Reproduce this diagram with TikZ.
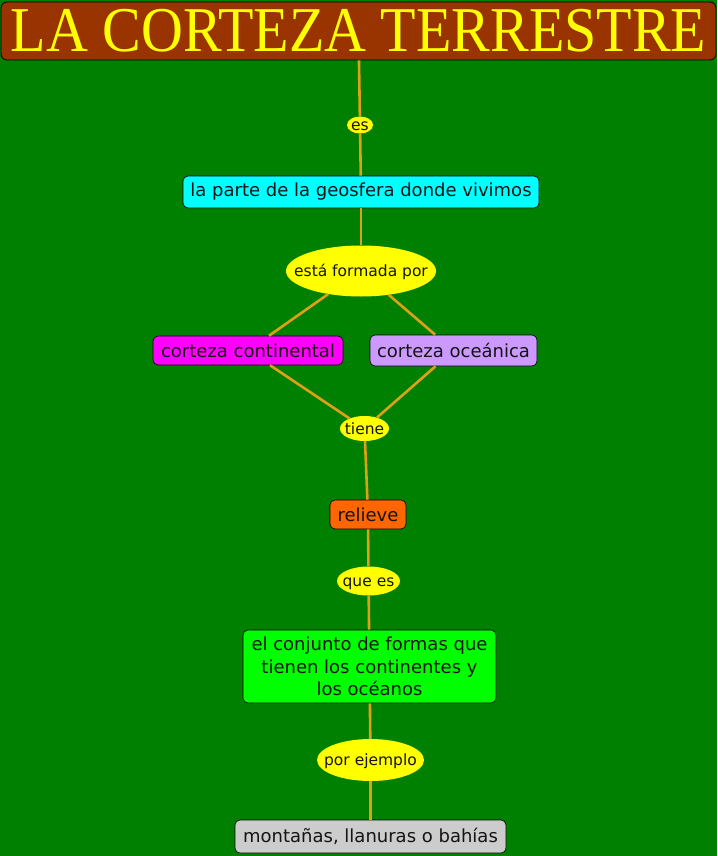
\documentclass[tikz,border=0pt]{standalone}
\usepackage{fontspec}
\setmainfont{DejaVu Sans}
\newfontfamily\titlefont{Liberation Serif}
\usetikzlibrary{shapes.geometric}
\definecolor{bg}{RGB}{0,128,0}
\definecolor{titlebg}{RGB}{153,51,0}
\definecolor{link}{RGB}{222,160,20}
\definecolor{cyanc}{RGB}{0,255,255}
\definecolor{magc}{RGB}{255,0,255}
\definecolor{yelc}{RGB}{255,255,0}
\definecolor{lav}{RGB}{204,153,255}
\definecolor{orng}{RGB}{255,102,0}
\definecolor{grn}{RGB}{0,255,0}
\definecolor{gry}{RGB}{204,204,204}
\definecolor{txt}{RGB}{20,20,20}
\newcommand{\lbl}[1]{\raisebox{-0.37em}[0pt][0pt]{\makebox[0pt]{#1}}}
\tikzset{
  concept/.style={draw=black, line width=0.6pt, rounded corners=5pt, inner sep=0pt, align=center,
    text=txt, font=\fontsize{18}{22.5}\selectfont},
  linkname/.style={ellipse, fill=yelc, inner sep=0pt, text=txt, font=\fontsize{15.5}{18}\selectfont},
  conn/.style={draw=link, line width=2.6pt}
}
\begin{document}
\begin{tikzpicture}[x=1pt,y=-1pt]
\useasboundingbox (0,0) rectangle (717,856);
\fill[bg] (0,0) rectangle (717,856);
% nodes
\node[draw=black, line width=0.8pt, fill=titlebg, rounded corners=6pt, minimum width=715pt, minimum height=58pt, inner sep=0pt,
  text=yelc, font=\titlefont\fontsize{58}{60}\selectfont] (title) at (358.5,31) {\scalebox{1}[1.1]{LA CORTEZA TERRESTRE}};
\node[linkname, minimum width=26pt, minimum height=17pt] (es) at (360,125) {\lbl{es}};
\node[concept, fill=cyanc, minimum width=356pt, minimum height=32pt] (parte) at (361,192) {la parte de la geosfera donde vivimos};
\node[linkname, minimum width=150pt, minimum height=51pt] (formada) at (361,271) {\lbl{está formada por}};
\node[concept, fill=magc, minimum width=190pt, minimum height=29pt] (cont) at (248,350.5) {corteza continental};
\node[concept, fill=lav, minimum width=167pt, minimum height=31pt] (ocea) at (453.5,350.5) {corteza oceánica};
\node[linkname, minimum width=49pt, minimum height=25pt] (tiene) at (364.5,428.5) {\lbl{tiene}};
\node[concept, fill=orng, minimum width=76pt, minimum height=29pt] (relieve) at (368,514.5) {relieve};
\node[linkname, minimum width=63pt, minimum height=29pt] (quees) at (368.5,581) {\lbl{que es}};
\node[concept, fill=grn, minimum width=253pt, minimum height=73pt] (conj) at (369.5,666.5) {el conjunto de formas que\\tienen los continentes y\\los océanos};
\node[linkname, minimum width=107pt, minimum height=42pt] (ejemplo) at (370.5,760) {\lbl{por ejemplo}};
\node[concept, fill=gry, minimum width=271pt, minimum height=33pt] (mont) at (370.5,836.5) {montañas, llanuras o bahías};
% connectors
\draw[conn] (title) -- (es);
\draw[conn] (es) -- (parte);
\draw[conn] (parte) -- (formada);
\draw[conn] (formada) -- (cont);
\draw[conn] (formada) -- (ocea);
\draw[conn] (cont) -- (tiene);
\draw[conn] (ocea) -- (tiene);
\draw[conn] (tiene) -- (relieve);
\draw[conn] (relieve) -- (quees);
\draw[conn] (quees) -- (conj);
\draw[conn] (conj) -- (ejemplo);
\draw[conn] (ejemplo) -- (mont);
\end{tikzpicture}
\end{document}
